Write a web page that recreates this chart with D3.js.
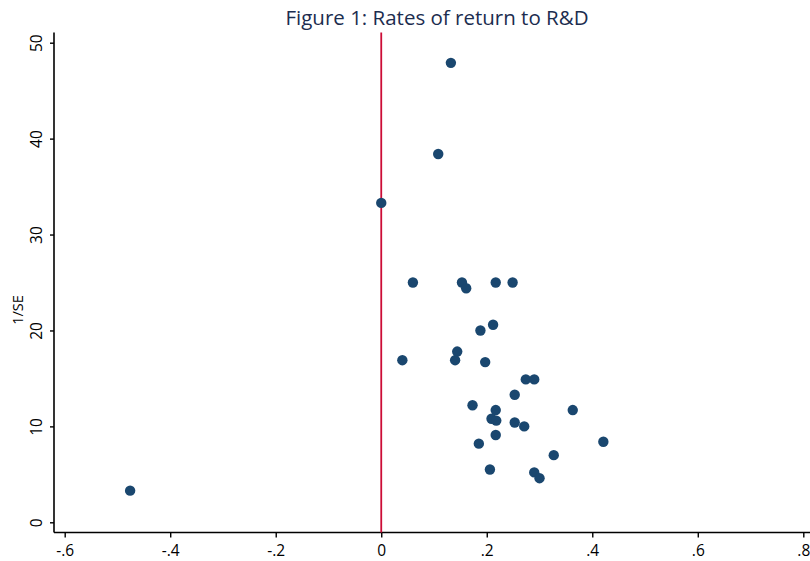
<!DOCTYPE html>
<html><head><meta charset="utf-8">
<script src="https://cdn.jsdelivr.net/npm/d3@7"></script>
<style>body{margin:0;background:#fff;} svg{display:block;}</style>
</head><body>
<svg id="c" width="810" height="561"></svg>
<script>
const title = "Figure 1: Rates of return to R&D";
const yLabel = "1/SE";
const xTicks = [-0.6, -0.4, -0.2, 0, 0.2, 0.4, 0.6, 0.8];
const xTickLabels = ["-.6", "-.4", "-.2", "0", ".2", ".4", ".6", ".8"];
const yTicks = [0, 10, 20, 30, 40, 50];
const returns = [0.132, 0.108, 0.000, 0.060, 0.153, 0.161, 0.217, 0.249, 0.212, 0.188, 0.144, 0.040, 0.140, 0.197,
  0.274, 0.290, 0.253, 0.173, 0.217, 0.363, 0.209, 0.218, 0.253, 0.271, 0.217, 0.185, 0.421, 0.327, 0.206, 0.290, 0.300, -0.476];
const invSE = [47.9, 38.4, 33.3, 25.0, 25.0, 24.4, 25.0, 25.0, 20.6, 20.0, 17.8, 16.9, 16.9, 16.7,
  14.9, 14.9, 13.3, 12.2, 11.7, 11.7, 10.8, 10.6, 10.4, 10.0, 9.1, 8.2, 8.4, 7.0, 5.5, 5.2, 4.6, 3.3];

const svg = d3.select("#c");
const x = d3.scaleLinear().domain([-0.6, 0.8]).range([64.7, 803.3]);
const y = d3.scaleLinear().domain([0, 50]).range([522.3, 42.7]);
const font = "'Open Sans', 'DejaVu Sans', sans-serif";
const axisY0 = 532.5, axisX0 = 54;

svg.append("text").attr("x", 437).attr("y", 25).attr("text-anchor", "middle")
  .attr("font-family", font).attr("font-size", 20.5).attr("fill", "#1c2d4f").text(title);

// x axis
const gx = svg.append("g").attr("transform", `translate(0,${axisY0})`);
gx.call(d3.axisBottom(x).tickValues(xTicks).tickSize(5).tickSizeOuter(0)
  .tickFormat((d, i) => xTickLabels[i]));
gx.select(".domain").remove();
gx.append("line").attr("x1", axisX0).attr("x2", 810).attr("stroke", "#000").attr("stroke-width", 1.6);
gx.selectAll(".tick line").attr("stroke", "#000").attr("stroke-width", 1.4);
gx.selectAll(".tick text").attr("font-family", font).attr("font-size", 15.5).attr("fill", "#000").attr("dy", "1em");

// y axis
const gy = svg.append("g").attr("transform", `translate(${axisX0},0)`);
gy.call(d3.axisLeft(y).tickValues(yTicks).tickSize(4).tickSizeOuter(0));
gy.select(".domain").remove();
gy.append("line").attr("y1", 32.5).attr("y2", axisY0).attr("stroke", "#000").attr("stroke-width", 1.6);
gy.selectAll(".tick line").attr("stroke", "#000").attr("stroke-width", 1.4);
gy.selectAll(".tick text").attr("font-family", font).attr("font-size", 15.5).attr("fill", "#000")
  .attr("x", 0).attr("dy", 0).attr("text-anchor", "middle")
  .attr("transform", "translate(-12,0) rotate(-90)");

svg.append("text").attr("transform", "translate(23,310) rotate(-90)").attr("text-anchor", "middle")
  .attr("font-family", font).attr("font-size", 14.5).attr("fill", "#000").text(yLabel);

// reference line at zero
svg.append("line").attr("x1", x(0)).attr("x2", x(0)).attr("y1", 32.5).attr("y2", axisY0)
  .attr("stroke", "#cc0c36").attr("stroke-width", 1.8);

svg.append("g").selectAll("circle").data(returns).join("circle")
  .attr("cx", (d) => x(d)).attr("cy", (d, i) => y(invSE[i])).attr("r", 5.2)
  .attr("fill", "#1a476f");
</script>
</body></html>
